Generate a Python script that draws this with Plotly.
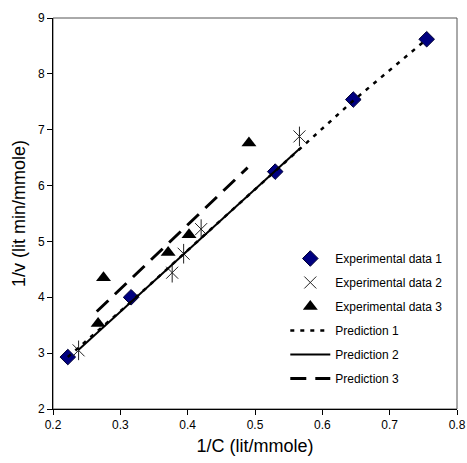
import plotly.graph_objects as go

# Experimental data
x1 = [0.222, 0.316, 0.530, 0.646, 0.755]
y1 = [2.93, 4.00, 6.25, 7.54, 8.62]

x2 = [0.238, 0.377, 0.394, 0.420, 0.566]
y2 = [3.05, 4.44, 4.78, 5.22, 6.88]

x3 = [0.267, 0.275, 0.371, 0.402, 0.491]
y3 = [3.53, 4.35, 4.80, 5.12, 6.76]

# Predictions
px1 = [0.222, 0.316, 0.430, 0.530, 0.567, 0.645, 0.755]
py1 = [2.93, 3.92, 5.17, 6.26, 6.67, 7.51, 8.62]

px2 = [0.238, 0.567]
py2 = [3.06, 6.67]

px3 = [0.265, 0.489]
py3 = [3.745, 6.32]

fig = go.Figure()

fig.add_trace(go.Scatter(x=x1, y=y1, mode="markers", name="Experimental data 1",
                         legendgroup="a",
                         marker=dict(symbol="diamond", size=12, color="#000080",
                                     line=dict(color="#000033", width=1))))
fig.add_trace(go.Scatter(x=x2, y=y2, mode="markers", name="Experimental data 2",
                         legendgroup="b",
                         marker=dict(symbol="x-thin-open", size=12, color="#222222",
                                     line=dict(color="#222222", width=1))))
fig.add_trace(go.Scatter(x=x2, y=y2, mode="markers", showlegend=False,
                         legendgroup="b",
                         marker=dict(symbol="line-ns-open", size=14, color="#222222",
                                     line=dict(color="#222222", width=1))))
fig.add_trace(go.Scatter(x=x3, y=y3, mode="markers", name="Experimental data 3",
                         legendgroup="c",
                         marker=dict(symbol="triangle-up", size=13, color="black")))
fig.add_trace(go.Scatter(x=px1, y=py1, mode="lines", name="Prediction 1",
                         legendgroup="d",
                         line=dict(color="black", width=2.5, dash="4px,6px")))
fig.add_trace(go.Scatter(x=px2, y=py2, mode="lines", name="Prediction 2",
                         legendgroup="e",
                         line=dict(color="black", width=2)))
fig.add_trace(go.Scatter(x=px3, y=py3, mode="lines", name="Prediction 3",
                         legendgroup="f",
                         line=dict(color="black", width=3, dash="16px,9px")))

axis_font = dict(family="Liberation Sans, Arial, sans-serif", size=12, color="black")

fig.update_layout(
    width=467, height=463,
    margin=dict(l=53, r=10, t=18, b=54),
    paper_bgcolor="white", plot_bgcolor="white",
    font=dict(family="Liberation Sans, Arial, sans-serif", color="black"),
    showlegend=True,
    legend=dict(x=0.575, y=0.422, xanchor="left", yanchor="top",
                bgcolor="rgba(0,0,0,0)", tracegroupgap=5,
                font=dict(size=12, color="black"), itemwidth=40),
    xaxis=dict(range=[0.2, 0.8], tickvals=[0.2, 0.3, 0.4, 0.5, 0.6, 0.7, 0.8],
               ticktext=["0.2", "0.3", "0.4", "0.5", "0.6", "0.7", "0.8"],
               showgrid=False, zeroline=False, showline=True, linecolor="black",
               linewidth=1, ticks="outside", ticklen=5, tickcolor="black",
               tickfont=axis_font, automargin=False,
               title=dict(text="1/C (lit/mmole)", font=dict(size=18), standoff=7)),
    yaxis=dict(range=[2, 9], tickvals=[2, 3, 4, 5, 6, 7, 8, 9],
               showgrid=False, zeroline=False, showline=True, linecolor="black",
               linewidth=1, ticks="outside", ticklen=5, tickcolor="black",
               tickfont=axis_font, automargin=False,
               title=dict(text="1/v (lit min/mmole)", font=dict(size=18), standoff=7)),
    shapes=[dict(type="rect", xref="paper", yref="paper", x0=0, y0=0, x1=1, y1=1,
                 line=dict(color="#555555", width=1), layer="below")],
)

fig.write_html("out.html",
               config={"displayModeBar": False},
               post_script="document.body.style.margin='0';document.body.style.overflow='hidden';")
